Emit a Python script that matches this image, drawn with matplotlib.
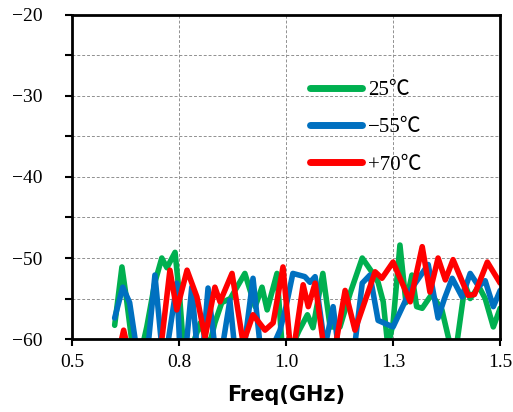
import matplotlib
matplotlib.use("Agg")
import matplotlib.pyplot as plt
import numpy as np

# frequency axis ticks (labels as printed on the chart)
xticks = [0.5, 0.75, 1.0, 1.25, 1.5]
xticklabels = ["0.5", "0.8", "1.0", "1.3", "1.5"]
yticks = [-60, -50, -40, -30, -20]
yticklabels = ["−60", "−50", "−40", "−30", "−20"]

# 25 C
g_x = [0.600, 0.617, 0.627, 0.643, 0.660, 0.675, 0.694, 0.710, 0.722, 0.741, 0.752, 0.762,
       0.780, 0.800, 0.820, 0.834, 0.850, 0.870, 0.904, 0.928, 0.944, 0.956, 0.979, 0.991,
       1.005, 1.030, 1.050, 1.063, 1.086, 1.103, 1.126, 1.150, 1.178, 1.203, 1.215, 1.227,
       1.238, 1.250, 1.266, 1.280, 1.294, 1.305, 1.318, 1.340, 1.364, 1.380, 1.395, 1.418,
       1.430, 1.450, 1.465, 1.484, 1.500]
g_y = [-58.3, -51.1, -54.8, -61.5, -62.0, -58.5, -53.0, -50.0, -51.2, -49.3, -55.0, -62.0,
       -61.0, -58.0, -61.0, -58.0, -55.5, -55.0, -51.9, -56.0, -53.6, -56.4, -51.9, -61.0,
       -62.0, -59.0, -57.0, -58.6, -51.9, -58.5, -58.5, -54.3, -50.0, -51.9, -53.0, -55.4,
       -61.0, -58.0, -48.4, -55.5, -52.1, -56.0, -56.2, -54.5, -56.4, -60.0, -62.0, -53.3,
       -55.0, -53.5, -55.0, -58.5, -56.2]

# -55 C
b_x = [0.600, 0.619, 0.635, 0.652, 0.665, 0.680, 0.694, 0.710, 0.720, 0.740, 0.745, 0.752,
       0.765, 0.780, 0.792, 0.805, 0.818, 0.834, 0.850, 0.869, 0.880, 0.900, 0.923, 0.940,
       0.960, 0.986, 1.000, 1.016, 1.044, 1.056, 1.068, 1.091, 1.110, 1.122, 1.140, 1.160,
       1.178, 1.196, 1.215, 1.250, 1.290, 1.332, 1.355, 1.370, 1.388, 1.411, 1.430, 1.450,
       1.465, 1.484, 1.500]
b_y = [-57.4, -53.6, -55.5, -61.5, -62.0, -59.8, -52.1, -61.0, -62.0, -55.0, -53.1, -61.0,
       -62.0, -53.6, -61.0, -62.0, -53.7, -61.0, -61.5, -55.2, -61.0, -62.0, -52.5, -61.0,
       -62.0, -58.9, -56.0, -51.9, -52.3, -53.0, -52.3, -61.0, -56.0, -61.0, -62.0, -61.0,
       -53.1, -52.1, -57.7, -58.5, -54.0, -50.8, -57.4, -55.0, -52.5, -54.8, -51.9, -53.5,
       -52.8, -56.0, -54.0]

# +70 C
r_x = [0.612, 0.621, 0.630, 0.640, 0.700, 0.710, 0.729, 0.745, 0.769, 0.792, 0.811, 0.834,
       0.846, 0.874, 0.900, 0.923, 0.951, 0.970, 0.993, 1.010, 1.020, 1.040, 1.052, 1.068,
       1.087, 1.100, 1.115, 1.138, 1.161, 1.208, 1.224, 1.250, 1.290, 1.318, 1.336, 1.355,
       1.372, 1.390, 1.425, 1.440, 1.470, 1.500]
r_y = [-61.0, -58.9, -61.0, -62.0, -62.0, -60.1, -51.5, -56.4, -51.5, -54.8, -59.8, -53.6,
       -55.4, -51.9, -60.5, -57.0, -58.9, -58.0, -51.1, -61.0, -60.5, -53.3, -56.0, -53.1,
       -60.5, -62.0, -61.0, -54.0, -58.9, -51.7, -52.5, -50.5, -55.4, -48.6, -54.2, -50.0,
       -52.7, -50.2, -54.6, -54.5, -50.5, -53.1]

serif = ["Liberation Serif", "Noto Sans CJK SC"]

fig = plt.figure(figsize=(5.13, 4.12), dpi=100)
ax = fig.add_axes([0.140, 0.177, 0.835, 0.787])

lw = 4.0
ax.plot(g_x, g_y, color="#00B050", lw=lw, solid_joinstyle="round", solid_capstyle="round", label="25℃")
ax.plot(b_x, b_y, color="#0070C0", lw=lw, solid_joinstyle="round", solid_capstyle="round", label="−55℃")
ax.plot(r_x, r_y, color="#FF0000", lw=lw, solid_joinstyle="round", solid_capstyle="round", label="+70℃")

ax.set_xlim(0.5, 1.5)
ax.set_ylim(-60, -20)
ax.set_xticks(xticks)
ax.set_xticklabels(xticklabels, family=serif, fontsize=14)
ax.set_yticks(yticks)
ax.set_yticklabels(yticklabels, family=serif, fontsize=14)
ax.set_yticks(np.arange(-55, -20, 10), minor=True)
ax.tick_params(axis="both", which="both", direction="out", length=5, width=1.5, color="black")
ax.tick_params(axis="x", pad=6)
ax.tick_params(axis="y", pad=16)

ax.grid(True, which="both", axis="y", color="#909090", linestyle=(0, (3, 2)), linewidth=0.7)
ax.grid(True, which="major", axis="x", color="#909090", linestyle=(0, (3, 2)), linewidth=0.7)
ax.set_axisbelow(True)

for s in ax.spines.values():
    s.set_linewidth(2.0)
    s.set_color("black")

ax.set_xlabel("Freq(GHz)", fontsize=15, fontweight="bold", family="DejaVu Sans", labelpad=10)

leg = ax.legend(loc="upper left", bbox_to_anchor=(0.512, 0.855), frameon=False,
                handlelength=2.5, handletextpad=0.3, labelspacing=0.85,
                prop={"family": serif, "size": 15})
for h in leg.get_lines():
    h.set_linewidth(5)

fig.savefig("out.png", dpi=100)
